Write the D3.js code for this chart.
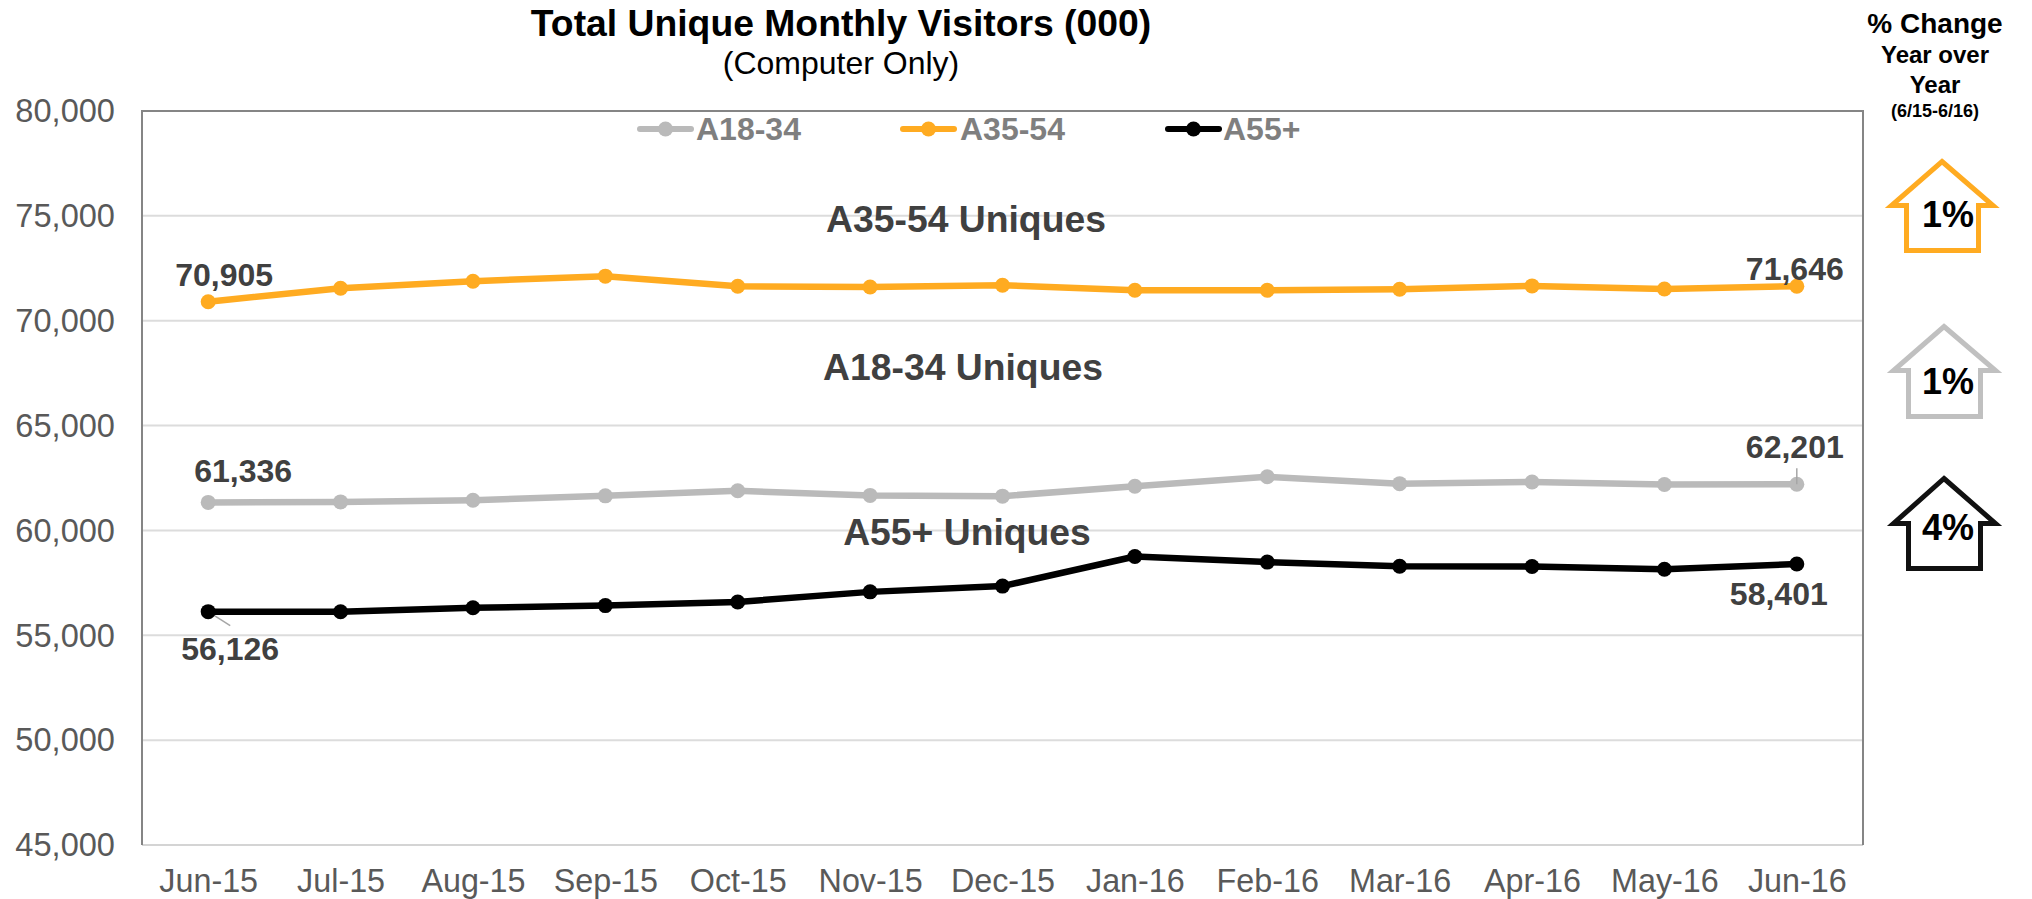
<!DOCTYPE html>
<html><head><meta charset="utf-8">
<script src="https://cdnjs.cloudflare.com/ajax/libs/d3/7.8.5/d3.min.js"></script>
<style>html,body{margin:0;padding:0;background:#fff;overflow:hidden}svg{display:block;font-family:"Liberation Sans",Arial,sans-serif}</style>
</head><body><svg id="c" width="2032" height="899"></svg>
<script>
const months = ["Jun-15","Jul-15","Aug-15","Sep-15","Oct-15","Nov-15","Dec-15","Jan-16","Feb-16","Mar-16","Apr-16","May-16","Jun-16"];
const a1834 = [61336,61360,61440,61650,61890,61670,61635,62110,62560,62230,62310,62190,62201];
const a3554 = [70905,71550,71885,72125,71640,71610,71690,71455,71450,71500,71660,71515,71646];
const a55 = [56126,56120,56310,56415,56590,57070,57345,58755,58490,58290,58280,58150,58401];
const seriesNames = ["A18-34","A35-54","A55+"];
const seriesColors = ["#bababa","#ffab21","#000000"];
const yTicks = [45000,50000,55000,60000,65000,70000,75000,80000];
const regionLabels = ["A35-54 Uniques","A18-34 Uniques","A55+ Uniques"];
const changes = ["1%","1%","4%"];

const svg = d3.select("#c");
const L=142,R=1863,T=111,B=845;
const x = d3.scalePoint().domain(months).range([L,R]).padding(0.5);
const y = d3.scaleLinear().domain([45000,80000]).range([B,T]);
const all = [a1834,a3554,a55];

// gridlines
svg.append("g").selectAll("line").data(yTicks.filter(t=>t>45000&&t<80000)).join("line")
 .attr("x1",L).attr("x2",R).attr("y1",d=>y(d)).attr("y2",d=>y(d))
 .attr("stroke","#dcdcdc").attr("stroke-width",2);
// frame
svg.append("line").attr("x1",L).attr("x2",R).attr("y1",B).attr("y2",B).attr("stroke","#d4d4d4").attr("stroke-width",2);
svg.append("path").attr("d",`M${L},${B}V${T}H${R}V${B}`).attr("fill","none").attr("stroke","#858585").attr("stroke-width",2);

// axes
const yA = svg.append("g").attr("transform",`translate(115,0)`).call(d3.axisLeft(y).tickValues(yTicks).tickSize(0).tickPadding(0).tickFormat(d3.format(",")));
yA.select(".domain").remove();
yA.selectAll("text").attr("font-size",32.6).attr("font-family","Liberation Sans").attr("fill","#595959").attr("dy","0.33em");
const xA = svg.append("g").attr("transform",`translate(0,892)`).call(d3.axisBottom(x).tickSize(0).tickPadding(0));
xA.select(".domain").remove();
xA.selectAll("text").attr("font-size",32.3).attr("font-family","Liberation Sans").attr("fill","#595959").attr("dy",0).attr("y",0);

// leader lines
svg.append("line").attr("x1",x(months[0])).attr("y1",y(a55[0])).attr("x2",x(months[0])+22).attr("y2",y(a55[0])+14).attr("stroke","#a6a6a6").attr("stroke-width",1.5);

// series
const line = d3.line().x((d,i)=>x(months[i])).y(d=>y(d));
all.forEach((vals,s)=>{
  svg.append("path").datum(vals).attr("d",line).attr("fill","none").attr("stroke",seriesColors[s]).attr("stroke-width",6.5).attr("stroke-linejoin","round");
  svg.append("g").selectAll("circle").data(vals).join("circle")
   .attr("cx",(d,i)=>x(months[i])).attr("cy",d=>y(d)).attr("r",7.5).attr("fill",seriesColors[s]);
});
svg.append("line").attr("x1",x(months[12])).attr("y1",y(a1834[12])).attr("x2",x(months[12])).attr("y2",y(a1834[12])-16).attr("stroke","#a6a6a6").attr("stroke-width",1.5);

// legend
const legendX=[637,900,1165];
const legendTextX=[59,60,58];
seriesNames.forEach((n,i)=>{
  const g=svg.append("g").attr("transform",`translate(${legendX[i]},129)`);
  g.append("line").attr("x1",3).attr("x2",54).attr("stroke",seriesColors[i]).attr("stroke-width",6).attr("stroke-linecap","round");
  g.append("circle").attr("cx",28.5).attr("r",7.5).attr("fill",seriesColors[i]);
  g.append("text").attr("x",legendTextX[i]).attr("y",11).attr("font-size",32).attr("font-weight","bold").attr("fill","#7f7f7f").text(n);
});

// titles
const txt=(s,px,py,size,weight,fill,anchor)=>svg.append("text").attr("x",px).attr("y",py).attr("font-size",size).attr("font-weight",weight).attr("fill",fill).attr("text-anchor",anchor||"middle").text(s);
txt("Total Unique Monthly Visitors (000)",841,36,37.3,"bold","#000");
txt("(Computer Only)",841,74,32,"normal","#000");
txt(regionLabels[0],966,232,37.3,"bold","#404040");
txt(regionLabels[1],963,380,37.3,"bold","#404040");
txt(regionLabels[2],967,545,37.3,"bold","#404040");

// data labels
const fmt=d3.format(",");
const dl=(v,i,dx,dy)=>txt(fmt(v),x(months[i])+dx,y(v)+dy,32,"bold","#404040");
dl(a3554[0],0,16,-16);
dl(a3554[12],12,-2,-6);
dl(a1834[0],0,35,-20);
dl(a1834[12],12,-2,-26);
dl(a55[0],0,22,48);
dl(a55[12],12,-18,41);

// right panel
txt("% Change",1935,33,28,"bold","#000");
txt("Year over",1935,63,24,"bold","#000");
txt("Year",1935,93,24,"bold","#000");
txt("(6/15-6/16)",1935,117,18,"bold","#000");

const arrowShape=(cx,top,wing,bottom,wl,wr,bl,br)=>[[cx,top],[wr,wing],[br,wing],[br,bottom],[bl,bottom],[bl,wing],[wl,wing]];
const arrows=[
 {c:"#ffab21",p:arrowShape(1942,161.5,205.5,250.5,1891.5,1993,1906.5,1978.5),ty:227,tc:"#000"},
 {c:"#c0c0c0",p:arrowShape(1944,326.5,370.5,416.5,1893.5,1995.5,1908.5,1980.5),ty:394,tc:"#000"},
 {c:"#111111",p:arrowShape(1944,478.5,523.5,568.5,1893.5,1995.5,1908.5,1980.5),ty:540,tc:"#000"}
];
const closed=d3.line().curve(d3.curveLinearClosed);
arrows.forEach((a,i)=>{
  svg.append("path").attr("d",closed(a.p)).attr("fill","#fff").attr("stroke",a.c).attr("stroke-width",5).attr("stroke-linejoin","miter").attr("stroke-miterlimit",10);
  txt(changes[i],1948,a.ty,36,"bold",a.tc);
});
</script></body></html>
